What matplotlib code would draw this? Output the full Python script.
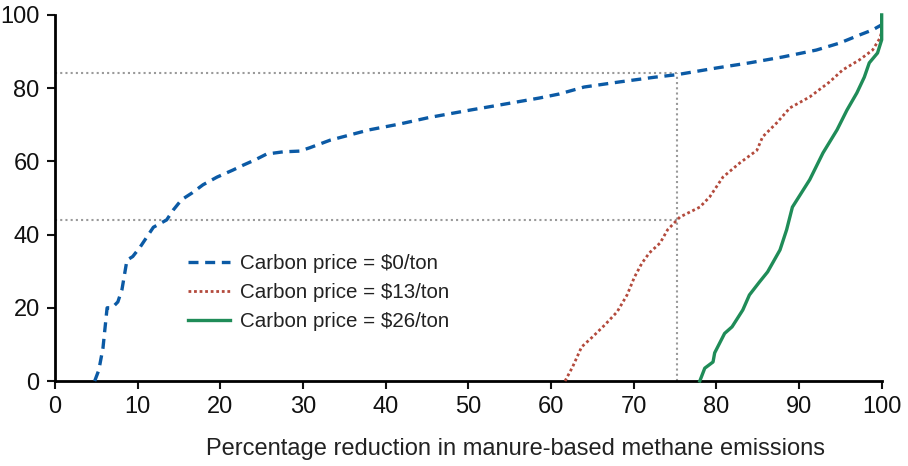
import matplotlib
matplotlib.use("Agg")
import matplotlib.pyplot as plt

plt.rcParams['font.family'] = ['Liberation Sans', 'DejaVu Sans']

# Carbon price = $0/ton
x0 = [4.8, 5.3, 5.8, 6.3, 6.9, 7.6, 8.1, 8.7, 9.4, 10.3, 11.1, 11.9, 13.5, 14.3, 15.3,
      16.6, 17.9, 19.6, 21.5, 22.8, 24.2, 25.6, 27.6, 29.6, 30.8, 33.3, 38.0, 41.7,
      45.3, 50.2, 53.8, 58.6, 61.0, 64.0, 68.3, 72.6, 75.3, 80.0, 84.0, 88.0, 92.1,
      94.9, 97.3, 98.9, 100.0]
y0 = [0, 3, 9, 20, 20, 21.6, 25, 33, 34, 36.6, 39.3, 42, 44, 46.7, 49.5,
      51.4, 53.6, 55.7, 57.6, 59, 60.4, 62, 62.6, 62.8, 63.7, 65.8, 68.6, 70.2,
      72, 74, 75.4, 77.3, 78.4, 80.3, 81.7, 83, 83.7, 85.5, 86.9, 88.5, 90.4,
      92.3, 94.5, 95.9, 97.3]

# Carbon price = $13/ton
x13 = [61.7, 62.6, 63.7, 65.0, 66.5, 68.0, 69.2, 70.1, 71.0, 71.9, 73.2, 74.1, 75.6,
       78.0, 79.2, 80.8, 82.8, 84.9, 85.6, 87.3, 88.9, 91.3, 93.7, 95.3, 97.3, 98.9,
       99.8, 100.0]
y13 = [0, 3.8, 9.3, 12, 15.3, 18.9, 23.5, 28.4, 32.2, 35, 37.7, 41.3, 44.8,
       47.5, 50.3, 55.7, 59.5, 63, 66.7, 70.5, 74.6, 77.6, 81.7, 85, 87.7, 90.4,
       93.7, 95.5]

# Carbon price = $26/ton
x26 = [78.0, 78.6, 79.6, 79.8, 81.0, 81.9, 83.2, 84.0, 85.2, 86.2, 87.7, 88.5, 89.2,
       91.3, 92.9, 94.6, 95.8, 97.0, 97.9, 98.5, 99.5, 100.0, 100.0]
y26 = [0, 3.5, 5.2, 7.7, 13, 14.8, 19.4, 23.5, 27, 29.8, 35.8, 41.3, 47.5,
       55, 62.3, 68.6, 74, 78.7, 83, 86.9, 89.6, 93.2, 100]

labels = ["Carbon price = $0/ton", "Carbon price = $13/ton", "Carbon price = $26/ton"]

# reference lines
ref_x = 75.3
ref_y = [84, 44]

fig = plt.figure(figsize=(9.08, 4.66), dpi=100)
ax = fig.add_axes([0.0606, 0.1824, 0.9104, 0.7856])

grey = "#9a9a9a"
for yv in ref_y:
    ax.plot([0, ref_x], [yv, yv], color=grey, lw=1.5, ls=(0, (1, 1.5)), zorder=1)
ax.plot([ref_x, ref_x], [0, ref_y[0]], color=grey, lw=1.5, ls=(0, (1, 1.5)), zorder=1)

ax.plot(x0, y0, color="#0b5aa5", lw=2.4, ls=(0, (3, 2)), label=labels[0], clip_on=False, zorder=3)
ax.plot(x13, y13, color="#b34a3c", lw=2.0, ls=(0, (1, 1)), label=labels[1], clip_on=False, zorder=3)
ax.plot(x26, y26, color="#1f8c58", lw=2.4, label=labels[2], clip_on=False, zorder=3)

ax.set_xlim(0, 100)
ax.set_ylim(0, 100)
ax.set_xticks(range(0, 101, 10))
ax.set_yticks(range(0, 101, 20))
for s in ["top", "right"]:
    ax.spines[s].set_visible(False)
for s in ["left", "bottom"]:
    ax.spines[s].set_linewidth(2)
ax.tick_params(direction="out", length=6, width=1.5, labelsize=17, colors="#111111", pad=5)
ax.set_xlabel("Percentage reduction in manure-based methane emissions", fontsize=17,
              color="#222222")
ax.xaxis.set_label_coords(0.557, -0.155)

leg = ax.legend(loc="upper left", bbox_to_anchor=(0.139, 0.398), frameon=False, fontsize=14.8,
                handlelength=2.0, handletextpad=0.5, labelspacing=0.5)
for t in leg.get_texts():
    t.set_color("#222222")

fig.savefig("out.png", dpi=100)
